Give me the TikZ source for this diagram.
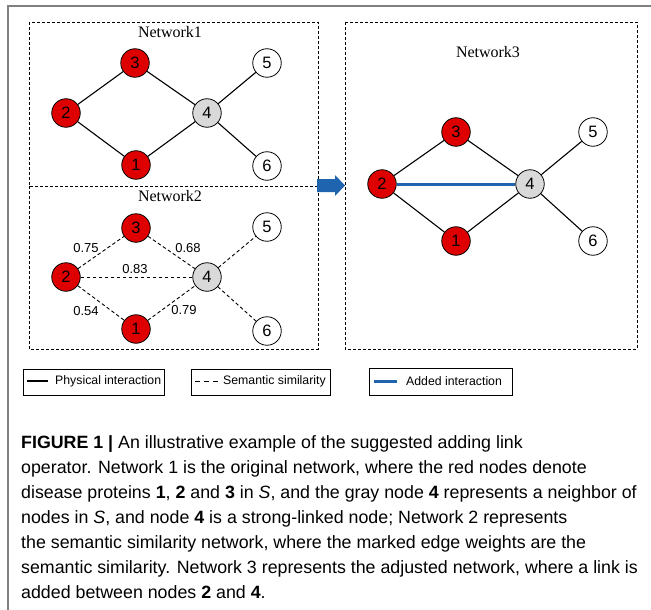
\documentclass[tikz,border=0pt]{standalone}
\usepackage{fontspec}
\setmainfont{Liberation Serif}
\newfontfamily\arialf{Liberation Sans}
\newfontfamily\capf{Liberation Sans}
\definecolor{nred}{RGB}{222,0,0}
\definecolor{ngray}{RGB}{217,217,217}
\definecolor{nblue}{RGB}{31,100,174}
\definecolor{framegray}{RGB}{128,128,128}
\tikzset{
  netnode/.style={circle,draw=black,line width=0.8pt,minimum size=28.5pt,inner sep=0pt,font=\arialf\fontsize{16.5}{18}\selectfont},
  rednode/.style={netnode,fill=nred},
  graynode/.style={netnode,fill=ngray},
  whitenode/.style={netnode,fill=white},
  phys/.style={line width=1.1pt,black},
  sem/.style={line width=0.9pt,black,dash pattern=on 3.5pt off 2.5pt},
  added/.style={line width=3pt,nblue},
  netbox/.style={line width=0.8pt,black,dash pattern=on 3pt off 2pt},
  nettitle/.style={font=\fontsize{16}{18}\selectfont,inner sep=0pt},
  wlabel/.style={font=\arialf\fontsize{13}{15}\selectfont,inner sep=0pt},
  legbox/.style={draw=black,line width=0.7pt},
  legtext/.style={font=\arialf\fontsize{12.3}{15}\selectfont,inner sep=0pt,anchor=west},
  capline/.style={font=\capf\fontsize{17.8}{20}\selectfont,inner sep=0pt,anchor=base west},
}
\begin{document}
\begin{tikzpicture}[x=1pt,y=-1pt]
\useasboundingbox (0,0) rectangle (651,610);
% outer frame corner
\draw[framegray,line width=1.5pt] (8,610) -- (8,6) -- (651,6);
% boxes
\draw[netbox] (29,22) rectangle (318,186);
\draw[netbox] (29,186) rectangle (318,349);
\draw[netbox] (345,22) rectangle (637,349);
\node[nettitle] (t1) at (170,32) {Network1};
\node[nettitle] (t2) at (170,196) {Network2};
\node[nettitle] (t3) at (488,52) {Network3};
% arrow
\fill[nblue] (317,179) -- (335,179) -- (335,175) -- (345,185.5) -- (335,196) -- (335,192) -- (317,192) -- cycle;
% Network 1
\node[rednode] (a3) at (135,63) {3};
\node[rednode] (a2) at (66,113) {2};
\node[graynode] (a4) at (207,113) {4};
\node[rednode] (a1) at (136,165) {1};
\node[whitenode] (a5) at (267,63) {5};
\node[whitenode] (a6) at (267,166) {6};
\draw[phys] (a2) -- (a3);
\draw[phys] (a3) -- (a4);
\draw[phys] (a2) -- (a1);
\draw[phys] (a1) -- (a4);
\draw[phys] (a4) -- (a5);
\draw[phys] (a4) -- (a6);
% Network 2
\node[rednode] (b3) at (136,228) {3};
\node[rednode] (b2) at (66,277) {2};
\node[graynode] (b4) at (207,277) {4};
\node[rednode] (b1) at (136,329) {1};
\node[whitenode] (b5) at (267,227) {5};
\node[whitenode] (b6) at (267,331) {6};
\draw[sem] (b2) -- (b3);
\draw[sem] (b3) -- (b4);
\draw[sem] (b2) -- (b1);
\draw[sem] (b1) -- (b4);
\draw[sem] (b4) -- (b5);
\draw[sem] (b4) -- (b6);
\draw[sem] (b2) -- (b4);
\node[wlabel] (w23) at (86,248) {0.75};
\node[wlabel] (w34) at (188,248) {0.68};
\node[wlabel] (w24) at (135,269) {0.83};
\node[wlabel] (w21) at (86,311) {0.54};
\node[wlabel] (w14) at (184,310) {0.79};
% Network 3
\node[rednode] (c3) at (456,132) {3};
\node[rednode] (c2) at (382,184) {2};
\node[graynode] (c4) at (530,184) {4};
\node[rednode] (c1) at (456,241) {1};
\node[whitenode] (c5) at (593,132) {5};
\node[whitenode] (c6) at (593,241) {6};
\draw[phys] (c2) -- (c3);
\draw[phys] (c3) -- (c4);
\draw[phys] (c2) -- (c1);
\draw[phys] (c1) -- (c4);
\draw[phys] (c4) -- (c5);
\draw[phys] (c4) -- (c6);
\draw[added] (c2) -- (c4);
% legend
\draw[legbox] (23,369) rectangle (164,395);
\coordinate (l1a) at (27,381);
\coordinate (l1b) at (48,381);
\draw[line width=1.3pt] (l1a) -- (l1b);
\node[legtext] (lt1) at (55,381) {Physical interaction};
\draw[legbox] (191,369) rectangle (330,395);
\coordinate (l2a) at (195,381);
\coordinate (l2b) at (218,381);
\draw[line width=1pt,dash pattern=on 5pt off 4pt] (l2a) -- (l2b);
\node[legtext] (lt2) at (223,381) {Semantic similarity};
\draw[legbox] (369,368) rectangle (512,395);
\coordinate (l3a) at (374,381);
\coordinate (l3b) at (397,381);
\draw[added] (l3a) -- (l3b);
\node[legtext] (lt3) at (406,381) {Added interaction};
% caption
\node[capline] (cap1) at (21,448) {\textbf{FIGURE 1 |} An illustrative example of the suggested adding link};
\node[capline] (cap2) at (21,473) {operator. Network 1 is the original network, where the red nodes denote};
\node[capline] (cap3) at (21,498) {disease proteins \textbf{1}, \textbf{2} and \textbf{3} in \textit{S}, and the gray node \textbf{4} represents a neighbor of};
\node[capline] (cap4) at (21,523) {nodes in \textit{S}, and node \textbf{4} is a strong-linked node; Network 2 represents};
\node[capline] (cap5) at (21,548) {the semantic similarity network, where the marked edge weights are the};
\node[capline] (cap6) at (21,573) {semantic similarity. Network 3 represents the adjusted network, where a link is};
\node[capline] (cap7) at (21,598) {added between nodes \textbf{2} and \textbf{4}.};
\end{tikzpicture}
\end{document}
